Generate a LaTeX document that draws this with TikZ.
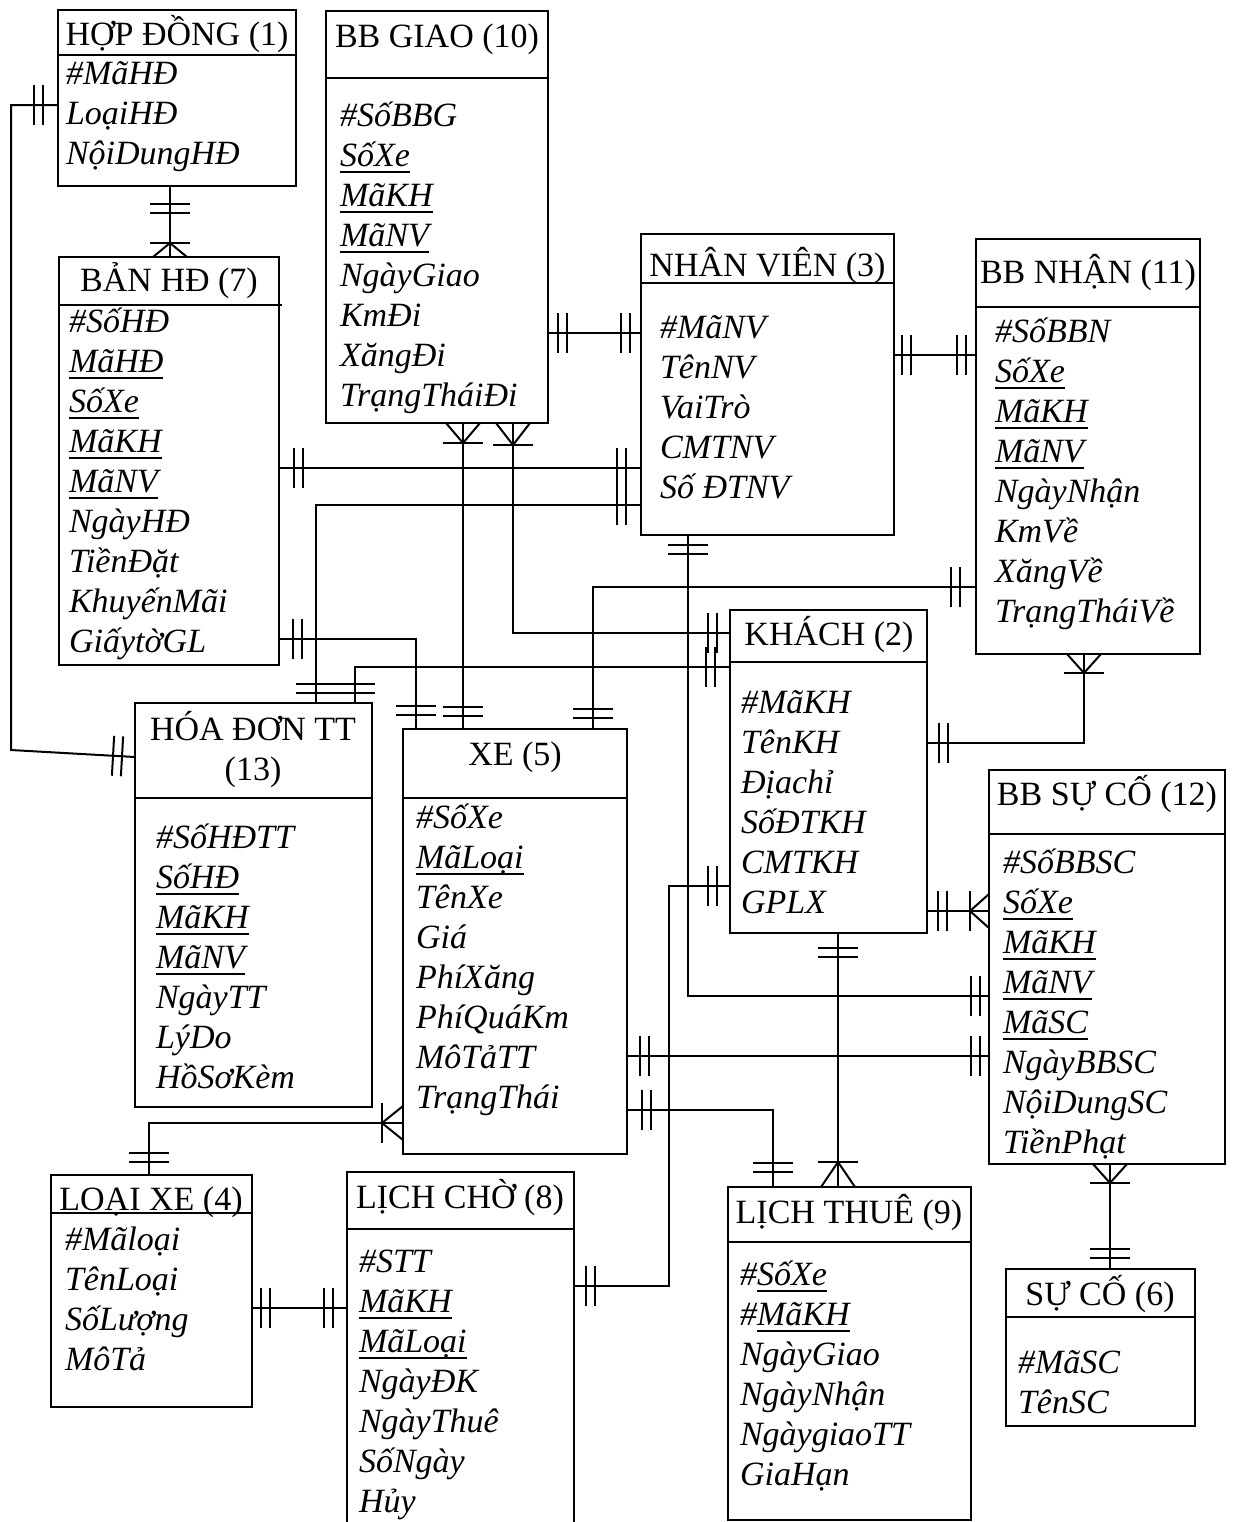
\documentclass[tikz,border=0pt]{standalone}
\usepackage{fontspec}
\setmainfont{Liberation Serif}
\usetikzlibrary{decorations.markings}

% underline with a fixed depth and weight
\newsavebox\ulbox
\newcommand\ulin[1]{\sbox\ulbox{#1}\rlap{\rule[-3.3pt]{\wd\ulbox}{0.9pt}}\usebox\ulbox}

\tikzset{
  txt/.style={font=\fontsize{17pt}{20pt}\selectfont, inner sep=0pt, outer sep=0pt},
  ttl/.style={txt, anchor=base},
  attr/.style={txt, anchor=base west, font=\fontsize{17pt}{20pt}\selectfont\itshape},
  ebox/.style={draw, line width=1pt, inner sep=0pt, outer sep=0pt, anchor=north west},
  conn/.style={line width=1pt},
  mk/.style={line width=1pt},
  % "one and only one": two bars near the start / end of a connector
  one start/.style={postaction={decorate, decoration={markings,
      mark=at position #1 with {\draw[mk] (0,-10pt) -- (0,10pt);},
      mark=at position {#1+4.5pt} with {\draw[mk] (0,-10pt) -- (0,10pt);}}}},
  one end/.style={postaction={decorate, decoration={markings,
      mark=at position {-(#1+4.5pt)} with {\draw[mk] (0,-10pt) -- (0,10pt);},
      mark=at position {-(#1)} with {\draw[mk] (0,-10pt) -- (0,10pt);}}}},
  % "one or many": bar plus crow's foot
  many start/.style={postaction={decorate, decoration={markings,
      mark=at position #1 with {\draw[mk] (0,-10pt) -- (0,10pt);
         \draw[mk] (-#1,8.5pt) -- (0,0) -- (-#1,-8.5pt);}}}},
  many end/.style={postaction={decorate, decoration={markings,
      mark=at position {-(#1)} with {\draw[mk] (0,-10pt) -- (0,10pt);
         \draw[mk] (#1,8.5pt) -- (0,0) -- (#1,-8.5pt);}}}},
}

% entity box: name, left, top, right, bottom, divider
\newcommand\entity[6]{%
  \node[ebox, minimum width={(#4-#2)*0.5pt}, minimum height={(#5-#3)*0.5pt}] (#1) at (#2,#3) {};
  \draw[line width=1pt] (#2,#6) -- (#4,#6);}
% attribute list: name, x, first baseline, items
\newcommand\attrs[4]{%
  \foreach \attrtext [count=\i] in {#4} {\node[attr] (#1-a\i) at (#2,{#3+40*(\i-1)}) {\attrtext};}}

\begin{document}
\begin{tikzpicture}[x=0.5pt, y=-0.5pt]
\path[fill=white, use as bounding box] (0,0) rectangle (1235,1522);

% ---------- entities ----------
\entity{hd}{58}{10}{296}{186}{55}
\node[ttl] (hd-t) at (177,45) {HỢP ĐỒNG (1)};
\attrs{hd}{66}{84}{\#MãHĐ, LoạiHĐ, NộiDungHĐ}

\entity{bbg}{326}{11}{548}{423}{78}
\node[ttl] (bbg-t) at (437,47) {BB GIAO (10)};
\attrs{bbg}{340}{126}{\#SốBBG, \ulin{SốXe}, \ulin{MãKH}, \ulin{MãNV}, NgàyGiao, KmĐi, XăngĐi, TrạngTháiĐi}

\entity{nv}{641}{234}{894}{535}{283}
\node[ttl] (nv-t) at (767.5,276) {NHÂN VIÊN (3)};
\attrs{nv}{660}{338}{\#MãNV, TênNV, VaiTrò, CMTNV, Số ĐTNV}

\entity{bbn}{976}{239}{1200}{654}{307}
\node[ttl] (bbn-t) at (1088,283) {BB NHẬN (11)};
\attrs{bbn}{995}{342}{\#SốBBN, \ulin{SốXe}, \ulin{MãKH}, \ulin{MãNV}, NgàyNhận, KmVề, XăngVề, TrạngTháiVề}

\entity{bhd}{59}{257}{279}{665}{305}
\draw[line width=1pt] (279,305) -- (282,305);
\node[ttl] (bhd-t) at (169,291) {BẢN HĐ (7)};
\attrs{bhd}{69}{332}{\#SốHĐ, \ulin{MãHĐ}, \ulin{SốXe}, \ulin{MãKH}, \ulin{MãNV}, NgàyHĐ, TiềnĐặt, KhuyếnMãi, GiấytờGL}

\entity{kh}{730}{610}{927}{933}{662}
\node[ttl] (kh-t) at (829,645) {KHÁCH (2)};
\attrs{kh}{741}{713}{\#MãKH, TênKH, Địachỉ, SốĐTKH, CMTKH, GPLX}

\entity{hdtt}{135}{703}{372}{1107}{798}
\node[ttl] (hdtt-t1) at (253,740) {HÓA ĐƠN TT};
\node[ttl] (hdtt-t2) at (253,780) {(13)};
\attrs{hdtt}{156}{848}{\#SốHĐTT, \ulin{SốHĐ}, \ulin{MãKH}, \ulin{MãNV}, NgàyTT, LýDo, HồSơKèm}

\entity{xe}{403}{729}{627}{1154}{798}
\node[ttl] (xe-t) at (515,765) {XE (5)};
\attrs{xe}{416}{828}{\#SốXe, \ulin{MãLoại}, TênXe, Giá, PhíXăng, PhíQuáKm, MôTảTT, TrạngThái}

\entity{bbsc}{989}{770}{1225}{1164}{834}
\node[ttl] (bbsc-t) at (1107,805) {BB SỰ CỐ (12)};
\attrs{bbsc}{1003}{873}{\#SốBBSC, \ulin{SốXe}, \ulin{MãKH}, \ulin{MãNV}, \ulin{MãSC}, NgàyBBSC, NộiDungSC, TiềnPhạt}

\entity{lx}{51}{1175}{252}{1407}{1213}
\node[ttl] (lx-t) at (151,1210) {LOẠI XE (4)};
\attrs{lx}{65}{1250}{\#Mãloại, TênLoại, SốLượng, MôTả}

\entity{lc}{347}{1172}{574}{1545}{1229}
\node[ttl] (lc-t) at (460,1208) {LỊCH CHỜ (8)};
\attrs{lc}{359}{1272}{\#STT, \ulin{MãKH}, \ulin{MãLoại}, NgàyĐK, NgàyThuê, SốNgày, Hủy}

\entity{lt}{728}{1187}{971}{1520}{1242}
\node[ttl] (lt-t) at (849,1223) {LỊCH THUÊ (9)};
\attrs{lt}{740}{1285}{\#\ulin{SốXe}, \#\ulin{MãKH}, NgàyGiao, NgàyNhận, NgàygiaoTT, GiaHạn}

\entity{sc}{1006}{1269}{1195}{1426}{1317}
\node[ttl] (sc-t) at (1100,1305) {SỰ CỐ (6)};
\attrs{sc}{1018}{1373}{\#MãSC, TênSC}

% ---------- relationships ----------
\draw[conn, one start=9pt, many end=7pt] (hd.south -| 170,0) -- (bhd.north -| 170,0);
\draw[conn, one start=7.5pt, one end=6.5pt] (hd.west |- 0,105) -- ++(-47,0) -- ++(0,645) -- (hdtt.west |- 0,757);
\draw[conn, one start=5pt, one end=5.5pt] (bbg.east |- 0,333) -- (nv.west |- 0,333);
\draw[conn, one start=4pt, one end=5pt] (nv.east |- 0,355) -- (bbn.west |- 0,355);
\draw[conn, one start=7.5pt, one end=7.5pt] (bhd.east |- 0,468) -- (nv.west |- 0,468);
\draw[conn, one start=7.5pt, one end=5pt] (nv.west |- 0,505) -| (hdtt.north -| 316,0);
\draw[conn, one start=7pt, one end=7pt] (bhd.east |- 0,639) -| (xe.north -| 416,0);
\draw[conn, many start=10pt, one end=6.5pt] (bbg.south -| 463,0) -- (xe.north -| 463,0);
\draw[conn, many start=11pt, one end=6.5pt] (bbg.south -| 513,0) |- (kh.west |- 0,633);
\draw[conn, one start=7.5pt, one end=5pt] (kh.west |- 0,667) -| (hdtt.north -| 355,0);
\draw[conn, one start=8pt, one end=5.5pt] (bbn.west |- 0,587) -| (xe.north -| 593,0);
\draw[conn, one start=5pt, one end=4.5pt] (nv.south -| 688,0) |- (bbsc.west |- 0,996);
\draw[conn, one start=6pt, many end=9.5pt] (kh.east |- 0,743) -| (bbn.south -| 1084,0);
\draw[conn, one start=5.5pt, many end=9.5pt] (kh.east |- 0,911) -- (bbsc.west |- 0,911);
\draw[conn, one start=7.5pt, many end=12.5pt] (kh.south -| 838,0) -- (lt.north -| 838,0);
\draw[conn, one start=6pt, one end=6.5pt] (lc.east |- 0,1286) -- ++(95,0) |- (kh.west |- 0,886);
\draw[conn, one start=6.5pt, one end=4.5pt] (xe.east |- 0,1056) -- (bbsc.west |- 0,1056);
\draw[conn, one start=7.5pt, one end=7.5pt] (xe.east |- 0,1110) -| (lt.north -| 773,0);
\draw[conn, many start=9.5pt, one end=5.5pt] (bbsc.south -| 1110,0) -- (sc.north -| 1110,0);
\draw[conn, many start=10.5pt, one end=6.5pt] (xe.west |- 0,1123) -| (lx.north -| 149,0);
\draw[conn, one start=4.5pt, one end=7pt] (lx.east |- 0,1308) -- (lc.west |- 0,1308);
\end{tikzpicture}
\end{document}
